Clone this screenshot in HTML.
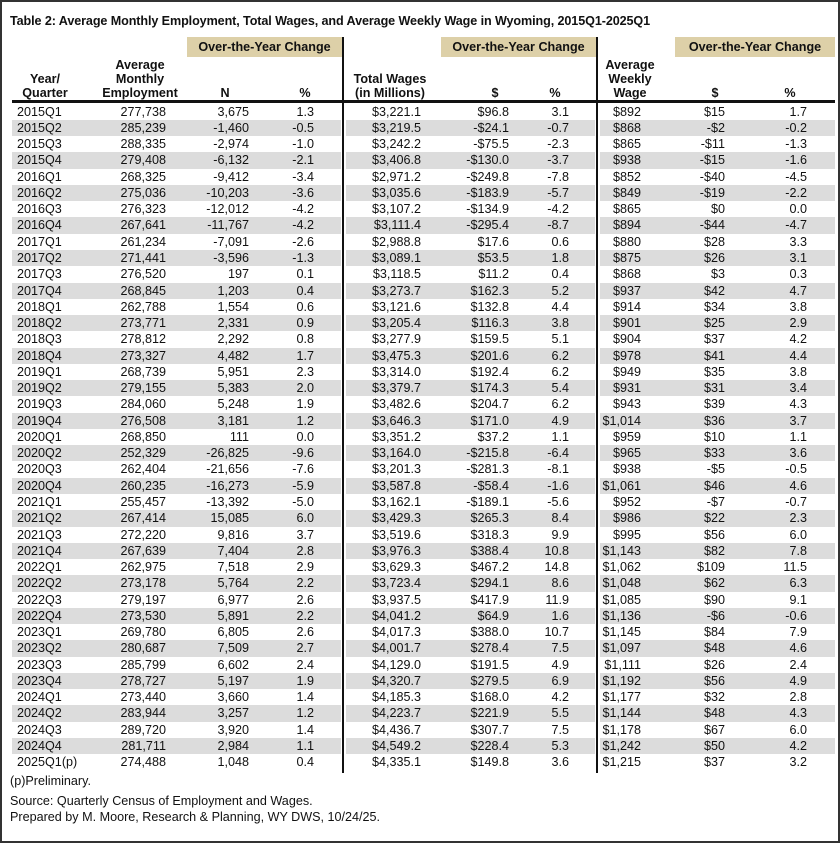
<!DOCTYPE html>
<html><head><meta charset="utf-8"><style>
body{margin:0;width:840px;height:843px;background:#fff;font-family:"Liberation Sans",sans-serif;color:#111;position:relative;overflow:hidden}
.frame{position:absolute;left:0;top:0;width:836px;height:839px;border:2px solid #333}
.a{position:absolute;white-space:nowrap}
.t{left:10px;top:14px;font-weight:bold;font-size:12.6px;letter-spacing:-0.1px}
.g{position:absolute;top:37px;height:20px;background:#ddd0a8;font-weight:bold;font-size:12.6px;text-align:center;line-height:20px}
.h{position:absolute;font-weight:bold;font-size:12.6px;text-align:center;line-height:14px}
.vl{position:absolute;top:37px;height:736px;width:2px;background:#111;z-index:5}
.hl{position:absolute;left:12px;top:100px;width:823px;height:3px;background:#111;z-index:5}
#rows{position:absolute;left:12px;top:103.6px;width:823px;font-size:12.6px}
.r{height:16.27px;line-height:16.27px;display:flex}
.r:nth-child(even){background:linear-gradient(to right,#dcdcdc 0,#dcdcdc 329px,#fff 329px,#fff 334px,#dcdcdc 334px,#dcdcdc 583px,#fff 583px,#fff 588px,#dcdcdc 588px)}
.r span{text-align:right;display:block}
.r span:nth-child(1){width:103px;text-align:left;padding-left:5px}
.r span:nth-child(2){width:46px}
.r span:nth-child(3){width:83px}
.r span:nth-child(4){width:65px}
.r span:nth-child(5){width:107px}
.r span:nth-child(6){width:88px}
.r span:nth-child(7){width:60px}
.r span:nth-child(8){width:72px}
.r span:nth-child(9){width:84px}
.r span:nth-child(10){width:82px}
.f{left:10px;font-size:12.6px}
</style></head><body>
<div class="frame"></div>
<div class="a t">Table 2: Average Monthly Employment, Total Wages, and Average Weekly Wage in Wyoming, 2015Q1-2025Q1</div>
<div class="g" style="left:187px;width:155px">Over-the-Year Change</div>
<div class="g" style="left:441px;width:155px">Over-the-Year Change</div>
<div class="g" style="left:675px;width:160px">Over-the-Year Change</div>
<div class="vl" style="left:342px"></div>
<div class="vl" style="left:596px"></div>
<div class="hl"></div>
<div class="h" style="left:15px;top:72px;width:60px">Year/<br>Quarter</div>
<div class="h" style="left:95px;top:58px;width:90px">Average<br>Monthly<br>Employment</div>
<div class="h" style="left:210px;top:86px;width:30px">N</div>
<div class="h" style="left:290px;top:86px;width:30px">%</div>
<div class="h" style="left:350px;top:72px;width:80px">Total Wages<br>(in Millions)</div>
<div class="h" style="left:480px;top:86px;width:30px">$</div>
<div class="h" style="left:540px;top:86px;width:30px">%</div>
<div class="h" style="left:600px;top:58px;width:60px">Average<br>Weekly<br>Wage</div>
<div class="h" style="left:700px;top:86px;width:30px">$</div>
<div class="h" style="left:775px;top:86px;width:30px">%</div>
<div id="rows">
<div class="r"><span>2015Q1</span><span>277,738</span><span>3,675</span><span>1.3</span><span>$3,221.1</span><span>$96.8</span><span>3.1</span><span>$892</span><span>$15</span><span>1.7</span></div>
<div class="r"><span>2015Q2</span><span>285,239</span><span>-1,460</span><span>-0.5</span><span>$3,219.5</span><span>-$24.1</span><span>-0.7</span><span>$868</span><span>-$2</span><span>-0.2</span></div>
<div class="r"><span>2015Q3</span><span>288,335</span><span>-2,974</span><span>-1.0</span><span>$3,242.2</span><span>-$75.5</span><span>-2.3</span><span>$865</span><span>-$11</span><span>-1.3</span></div>
<div class="r"><span>2015Q4</span><span>279,408</span><span>-6,132</span><span>-2.1</span><span>$3,406.8</span><span>-$130.0</span><span>-3.7</span><span>$938</span><span>-$15</span><span>-1.6</span></div>
<div class="r"><span>2016Q1</span><span>268,325</span><span>-9,412</span><span>-3.4</span><span>$2,971.2</span><span>-$249.8</span><span>-7.8</span><span>$852</span><span>-$40</span><span>-4.5</span></div>
<div class="r"><span>2016Q2</span><span>275,036</span><span>-10,203</span><span>-3.6</span><span>$3,035.6</span><span>-$183.9</span><span>-5.7</span><span>$849</span><span>-$19</span><span>-2.2</span></div>
<div class="r"><span>2016Q3</span><span>276,323</span><span>-12,012</span><span>-4.2</span><span>$3,107.2</span><span>-$134.9</span><span>-4.2</span><span>$865</span><span>$0</span><span>0.0</span></div>
<div class="r"><span>2016Q4</span><span>267,641</span><span>-11,767</span><span>-4.2</span><span>$3,111.4</span><span>-$295.4</span><span>-8.7</span><span>$894</span><span>-$44</span><span>-4.7</span></div>
<div class="r"><span>2017Q1</span><span>261,234</span><span>-7,091</span><span>-2.6</span><span>$2,988.8</span><span>$17.6</span><span>0.6</span><span>$880</span><span>$28</span><span>3.3</span></div>
<div class="r"><span>2017Q2</span><span>271,441</span><span>-3,596</span><span>-1.3</span><span>$3,089.1</span><span>$53.5</span><span>1.8</span><span>$875</span><span>$26</span><span>3.1</span></div>
<div class="r"><span>2017Q3</span><span>276,520</span><span>197</span><span>0.1</span><span>$3,118.5</span><span>$11.2</span><span>0.4</span><span>$868</span><span>$3</span><span>0.3</span></div>
<div class="r"><span>2017Q4</span><span>268,845</span><span>1,203</span><span>0.4</span><span>$3,273.7</span><span>$162.3</span><span>5.2</span><span>$937</span><span>$42</span><span>4.7</span></div>
<div class="r"><span>2018Q1</span><span>262,788</span><span>1,554</span><span>0.6</span><span>$3,121.6</span><span>$132.8</span><span>4.4</span><span>$914</span><span>$34</span><span>3.8</span></div>
<div class="r"><span>2018Q2</span><span>273,771</span><span>2,331</span><span>0.9</span><span>$3,205.4</span><span>$116.3</span><span>3.8</span><span>$901</span><span>$25</span><span>2.9</span></div>
<div class="r"><span>2018Q3</span><span>278,812</span><span>2,292</span><span>0.8</span><span>$3,277.9</span><span>$159.5</span><span>5.1</span><span>$904</span><span>$37</span><span>4.2</span></div>
<div class="r"><span>2018Q4</span><span>273,327</span><span>4,482</span><span>1.7</span><span>$3,475.3</span><span>$201.6</span><span>6.2</span><span>$978</span><span>$41</span><span>4.4</span></div>
<div class="r"><span>2019Q1</span><span>268,739</span><span>5,951</span><span>2.3</span><span>$3,314.0</span><span>$192.4</span><span>6.2</span><span>$949</span><span>$35</span><span>3.8</span></div>
<div class="r"><span>2019Q2</span><span>279,155</span><span>5,383</span><span>2.0</span><span>$3,379.7</span><span>$174.3</span><span>5.4</span><span>$931</span><span>$31</span><span>3.4</span></div>
<div class="r"><span>2019Q3</span><span>284,060</span><span>5,248</span><span>1.9</span><span>$3,482.6</span><span>$204.7</span><span>6.2</span><span>$943</span><span>$39</span><span>4.3</span></div>
<div class="r"><span>2019Q4</span><span>276,508</span><span>3,181</span><span>1.2</span><span>$3,646.3</span><span>$171.0</span><span>4.9</span><span>$1,014</span><span>$36</span><span>3.7</span></div>
<div class="r"><span>2020Q1</span><span>268,850</span><span>111</span><span>0.0</span><span>$3,351.2</span><span>$37.2</span><span>1.1</span><span>$959</span><span>$10</span><span>1.1</span></div>
<div class="r"><span>2020Q2</span><span>252,329</span><span>-26,825</span><span>-9.6</span><span>$3,164.0</span><span>-$215.8</span><span>-6.4</span><span>$965</span><span>$33</span><span>3.6</span></div>
<div class="r"><span>2020Q3</span><span>262,404</span><span>-21,656</span><span>-7.6</span><span>$3,201.3</span><span>-$281.3</span><span>-8.1</span><span>$938</span><span>-$5</span><span>-0.5</span></div>
<div class="r"><span>2020Q4</span><span>260,235</span><span>-16,273</span><span>-5.9</span><span>$3,587.8</span><span>-$58.4</span><span>-1.6</span><span>$1,061</span><span>$46</span><span>4.6</span></div>
<div class="r"><span>2021Q1</span><span>255,457</span><span>-13,392</span><span>-5.0</span><span>$3,162.1</span><span>-$189.1</span><span>-5.6</span><span>$952</span><span>-$7</span><span>-0.7</span></div>
<div class="r"><span>2021Q2</span><span>267,414</span><span>15,085</span><span>6.0</span><span>$3,429.3</span><span>$265.3</span><span>8.4</span><span>$986</span><span>$22</span><span>2.3</span></div>
<div class="r"><span>2021Q3</span><span>272,220</span><span>9,816</span><span>3.7</span><span>$3,519.6</span><span>$318.3</span><span>9.9</span><span>$995</span><span>$56</span><span>6.0</span></div>
<div class="r"><span>2021Q4</span><span>267,639</span><span>7,404</span><span>2.8</span><span>$3,976.3</span><span>$388.4</span><span>10.8</span><span>$1,143</span><span>$82</span><span>7.8</span></div>
<div class="r"><span>2022Q1</span><span>262,975</span><span>7,518</span><span>2.9</span><span>$3,629.3</span><span>$467.2</span><span>14.8</span><span>$1,062</span><span>$109</span><span>11.5</span></div>
<div class="r"><span>2022Q2</span><span>273,178</span><span>5,764</span><span>2.2</span><span>$3,723.4</span><span>$294.1</span><span>8.6</span><span>$1,048</span><span>$62</span><span>6.3</span></div>
<div class="r"><span>2022Q3</span><span>279,197</span><span>6,977</span><span>2.6</span><span>$3,937.5</span><span>$417.9</span><span>11.9</span><span>$1,085</span><span>$90</span><span>9.1</span></div>
<div class="r"><span>2022Q4</span><span>273,530</span><span>5,891</span><span>2.2</span><span>$4,041.2</span><span>$64.9</span><span>1.6</span><span>$1,136</span><span>-$6</span><span>-0.6</span></div>
<div class="r"><span>2023Q1</span><span>269,780</span><span>6,805</span><span>2.6</span><span>$4,017.3</span><span>$388.0</span><span>10.7</span><span>$1,145</span><span>$84</span><span>7.9</span></div>
<div class="r"><span>2023Q2</span><span>280,687</span><span>7,509</span><span>2.7</span><span>$4,001.7</span><span>$278.4</span><span>7.5</span><span>$1,097</span><span>$48</span><span>4.6</span></div>
<div class="r"><span>2023Q3</span><span>285,799</span><span>6,602</span><span>2.4</span><span>$4,129.0</span><span>$191.5</span><span>4.9</span><span>$1,111</span><span>$26</span><span>2.4</span></div>
<div class="r"><span>2023Q4</span><span>278,727</span><span>5,197</span><span>1.9</span><span>$4,320.7</span><span>$279.5</span><span>6.9</span><span>$1,192</span><span>$56</span><span>4.9</span></div>
<div class="r"><span>2024Q1</span><span>273,440</span><span>3,660</span><span>1.4</span><span>$4,185.3</span><span>$168.0</span><span>4.2</span><span>$1,177</span><span>$32</span><span>2.8</span></div>
<div class="r"><span>2024Q2</span><span>283,944</span><span>3,257</span><span>1.2</span><span>$4,223.7</span><span>$221.9</span><span>5.5</span><span>$1,144</span><span>$48</span><span>4.3</span></div>
<div class="r"><span>2024Q3</span><span>289,720</span><span>3,920</span><span>1.4</span><span>$4,436.7</span><span>$307.7</span><span>7.5</span><span>$1,178</span><span>$67</span><span>6.0</span></div>
<div class="r"><span>2024Q4</span><span>281,711</span><span>2,984</span><span>1.1</span><span>$4,549.2</span><span>$228.4</span><span>5.3</span><span>$1,242</span><span>$50</span><span>4.2</span></div>
<div class="r"><span>2025Q1(p)</span><span>274,488</span><span>1,048</span><span>0.4</span><span>$4,335.1</span><span>$149.8</span><span>3.6</span><span>$1,215</span><span>$37</span><span>3.2</span></div>
</div>
<div class="a f" style="top:774px">(p)Preliminary.</div>
<div class="a f" style="top:794px">Source: Quarterly Census of Employment and Wages.</div>
<div class="a f" style="top:810px">Prepared by M. Moore, Research &amp; Planning, WY DWS, 10/24/25.</div>
</body></html>
